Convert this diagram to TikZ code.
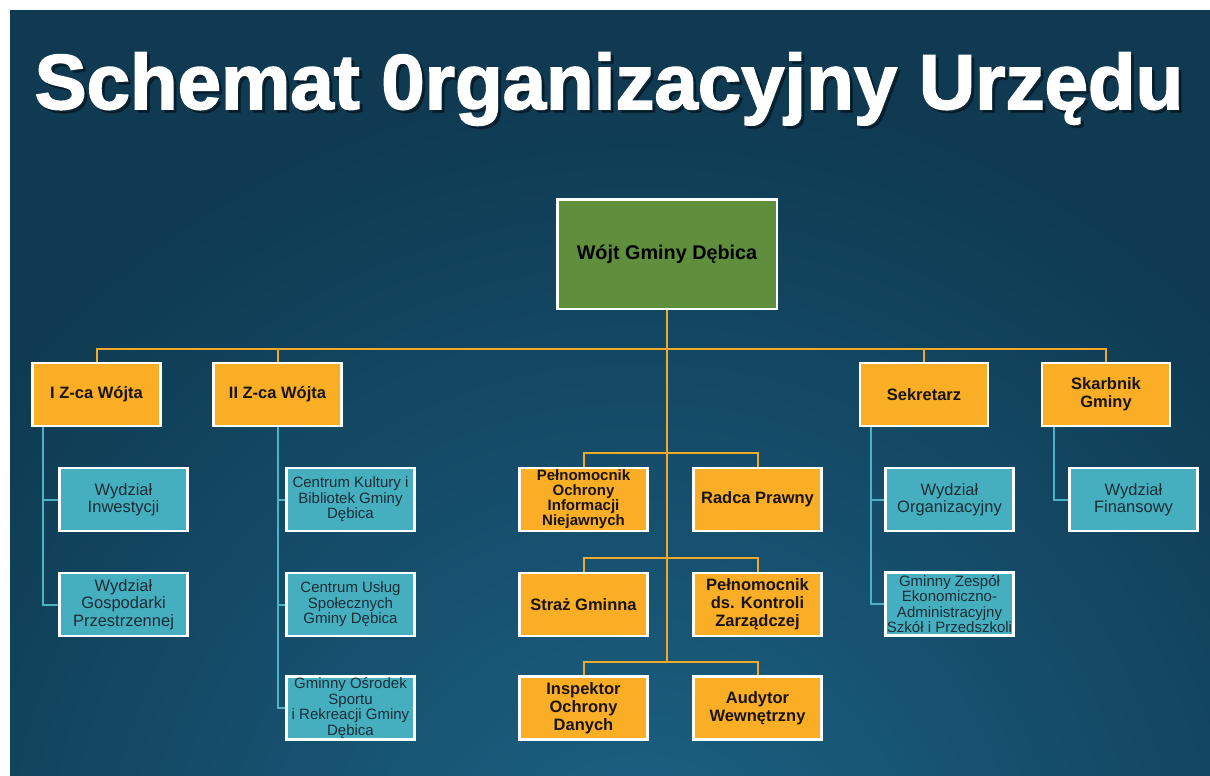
\documentclass[tikz,border=0pt]{standalone}
\usepackage{fontspec}
\setmainfont{Liberation Sans}
\newfontfamily\titleheavy{Liberation Sans Bold}[FakeBold=2]
\pgfdeclarelayer{bg}
\pgfdeclarelayer{lines}
\pgfsetlayers{bg,lines,main}
\definecolor{bgdark}{HTML}{0F3A52}
\definecolor{bglight}{HTML}{1C6486}
\definecolor{orangebox}{HTML}{F9AE26}
\definecolor{tealbox}{HTML}{46AFBF}
\definecolor{greenbox}{HTML}{5F8F3D}
\definecolor{olinecol}{HTML}{F2A92A}
\definecolor{tlinecol}{HTML}{4DB2C3}
\definecolor{ttext}{HTML}{1B2C36}
\definecolor{otext}{HTML}{1A1410}
\tikzset{
  box/.style={rectangle, draw=white, line width=2.5pt, minimum width=128pt, minimum height=63pt, inner sep=1pt, align=center},
  obox/.style={box, fill=orangebox, text=otext, font=\bfseries\fontsize{16.5}{18}\selectfont},
  osmall/.style={obox, font=\bfseries\fontsize{15}{15}\selectfont},
  tbox/.style={box, fill=tealbox, text=ttext, font=\fontsize{16.5}{17.5}\selectfont},
  tsmall/.style={tbox, font=\fontsize{15}{15.5}\selectfont},
  oconn/.style={draw=olinecol, line width=2pt},
  tconn/.style={draw=tlinecol, line width=2pt},
  titlefont/.style={font=\titleheavy\fontsize{78}{80}\selectfont}
}
\begin{document}
\begin{tikzpicture}[x=1pt,y=-1pt]
\useasboundingbox (0,0) rectangle (1210,776);
\begin{pgfonlayer}{bg}
\fill[white] (0,0) rectangle (1210,776);
\begin{scope}
\clip (10,10) rectangle (1210,776);
\fill[bgdark] (10,10) rectangle (1210,776);
\shade[inner color=bglight, outer color=bgdark] (640,900) circle (820pt);
\end{scope}
\end{pgfonlayer}

% title
\node[anchor=base, text=black, opacity=0.35, titlefont] (titleshadow) at (612,112) {Schemat 0rganizacyjny Urzędu};
\node[anchor=base, text=white, titlefont] (title) at (609,109) {Schemat 0rganizacyjny Urzędu};

% head
\node[box, fill=greenbox, text=black, font=\bfseries\fontsize{19.8}{22}\selectfont, minimum width=219.5pt, minimum height=109.5pt] (wojt) at (667,254) {Wójt Gminy Dębica};

% level 1
\node[obox] (z1) at (96.5,394.5) {I Z-ca Wójta};
\node[obox] (z2) at (277.5,394.5) {II Z-ca Wójta};
\node[obox] (sek) at (924,394.5) {Sekretarz};
\node[obox] (skarb) at (1106,394.5) {Skarbnik\\Gminy};

% teal units
\node[tbox] (inw) at (123.5,499.5) {Wydział\\Inwestycji};
\node[tbox] (gosp) at (123.5,604.5) {Wydział\\Gospodarki\\Przestrzennej};
\node[tsmall] (kult) at (350.5,499.5) {Centrum Kultury i\\Bibliotek Gminy\\Dębica};
\node[tsmall] (uslug) at (350.5,604.5) {Centrum Usług\\Społecznych\\Gminy Dębica};
\node[tsmall] (sport) at (350.5,708) {Gminny Ośrodek\\Sportu\\i Rekreacji Gminy\\Dębica};
\node[tbox] (org) at (949.5,499.5) {Wydział\\Organizacyjny};
\node[tsmall] (zesp) at (949.5,604) {Gminny Zespół\\Ekonomiczno-\\Administracyjny\\Szkół i Przedszkoli};
\node[tbox] (fin) at (1133.5,499.5) {Wydział\\Finansowy};

% central orange
\node[osmall] (pel) at (583.5,499.5) {Pełnomocnik\\Ochrony\\Informacji\\Niejawnych};
\node[obox] (radca) at (757.5,499.5) {Radca Prawny};
\node[obox] (straz) at (583.5,604.5) {Straż Gminna};
\node[obox] (kontr) at (757.5,604.5) {Pełnomocnik\\ds. Kontroli\\Zarządczej};
\node[obox] (insp) at (583.5,708) {Inspektor\\Ochrony\\Danych};
\node[obox] (audyt) at (757.5,708) {Audytor\\Wewnętrzny};

\coordinate (bus) at (667,349);
\coordinate (b1) at (667,453);
\coordinate (b2) at (667,558);
\coordinate (b3) at (667,662);

\begin{pgfonlayer}{lines}
\draw[oconn] (z1.north) |- (bus) -| (skarb.north);
\draw[oconn] (z2.north) -- (z2.north |- bus);
\draw[oconn] (sek.north) -- (sek.north |- bus);
\draw[oconn] (wojt.south) -- (b3);
\draw[oconn] (pel.north) |- (b1) -| (radca.north);
\draw[oconn] (straz.north) |- (b2) -| (kontr.north);
\draw[oconn] (insp.north) |- (b3) -| (audyt.north);

\draw[tconn] ([xshift=12pt]z1.south west) |- (inw.west);
\draw[tconn] ([xshift=12pt]z1.south west) |- (gosp.west);
\draw[tconn] (z2.south) |- (kult.west);
\draw[tconn] (z2.south) |- (uslug.west);
\draw[tconn] (z2.south) |- (sport.west);
\draw[tconn] ([xshift=12pt]sek.south west) |- (org.west);
\draw[tconn] ([xshift=12pt]sek.south west) |- (zesp.west);
\draw[tconn] ([xshift=13pt]skarb.south west) |- (fin.west);
\end{pgfonlayer}
\end{tikzpicture}
\end{document}
